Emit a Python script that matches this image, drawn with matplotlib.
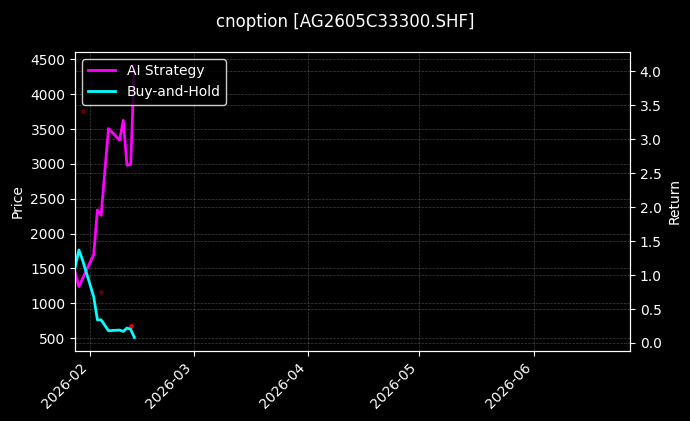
import matplotlib
matplotlib.use("Agg")
import matplotlib.pyplot as plt
import matplotlib.dates as mdates
import pandas as pd

# values
dates = ["2026-01-28", "2026-01-29", "2026-01-30", "2026-02-02", "2026-02-03",
         "2026-02-04", "2026-02-05", "2026-02-06", "2026-02-09", "2026-02-10",
         "2026-02-11", "2026-02-12", "2026-02-13"]
ai_strategy = [1.03, 0.83, 0.95, 1.30, 1.96, 1.88, 2.52, 3.16, 2.99, 3.28,
               2.62, 2.63, 4.09]
buy_hold = [1.12, 1.37, 1.22, 0.68, 0.34, 0.34, 0.26, 0.18, 0.19, 0.17,
            0.22, 0.20, 0.08]

# trade markers on the price axis
trade_dates = ["2026-01-30", "2026-02-04", "2026-02-12"]
trade_prices = [3760, 1160, 680]
trade_alpha = [0.3, 0.3, 0.9]

price_lim = (314, 4609)
x_start, x_end = "2026-01-28", "2026-06-27"

t = pd.to_datetime(dates)
td = pd.to_datetime(trade_dates)

plt.style.use("dark_background")
fig = plt.figure(figsize=(6.9, 4.21), dpi=100)
fig.patch.set_facecolor("black")
ax = fig.add_axes([0.109, 0.166, 0.804, 0.711])
ax.set_facecolor("black")
ax2 = ax.twinx()

for d, p, a in zip(td, trade_prices, trade_alpha):
    ax.plot([d], [p], "o", color="red", ms=2.5, alpha=a)
ax.set_ylim(*price_lim)
ax.set_ylabel("Price", color="white")

ax2.plot(t, ai_strategy, color="#ff00ff", lw=2, label="AI Strategy")
ax2.plot(t, buy_hold, color="#00ffff", lw=2, label="Buy-and-Hold")
ax2.set_ylabel("Return", color="white")

ax.grid(True, color="gray", ls="--", lw=0.5, alpha=0.5)
ax2.grid(True, axis="y", color="gray", ls="--", lw=0.5, alpha=0.5)

ax.set_xlim(pd.Timestamp(x_start), pd.Timestamp(x_end))
ax.xaxis.set_major_locator(mdates.MonthLocator())
ax.xaxis.set_major_formatter(mdates.DateFormatter("%Y-%m"))
plt.setp(ax.get_xticklabels(), rotation=45, ha="right")

for a in (ax, ax2):
    for s in a.spines.values():
        s.set_color("white")
    a.tick_params(colors="white")

leg = ax2.legend(loc="upper left", facecolor="black", edgecolor="white",
                 framealpha=0.8, fontsize=10)

fig.suptitle("cnoption [AG2605C33300.SHF]", color="white", fontsize=12, y=0.97)
fig.savefig("out.png", dpi=100, facecolor="black")
